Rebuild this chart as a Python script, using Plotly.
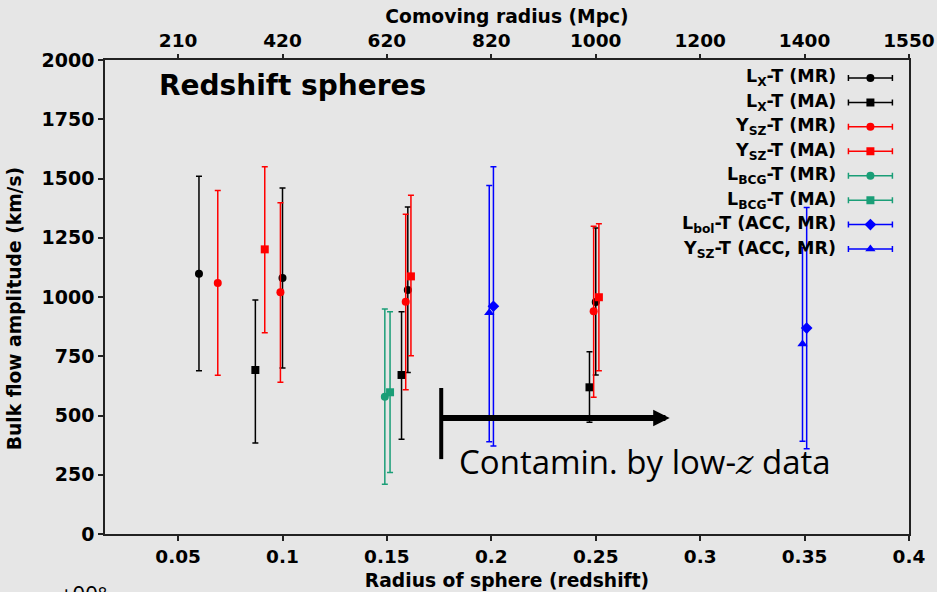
import plotly.graph_objects as go

# ---------------- data ----------------
lx_mr_z = [0.060, 0.100, 0.160, 0.250]
lx_mr_v = [1098, 1080, 1030, 979]
lx_mr_lo = [689, 700, 681, 671]
lx_mr_hi = [1510, 1460, 1380, 1291]

lx_ma_z = [0.087, 0.157, 0.247]
lx_ma_v = [692, 671, 619]
lx_ma_lo = [384, 400, 471]
lx_ma_hi = [987, 938, 769]

ysz_mr_z = [0.069, 0.099, 0.159, 0.249]
ysz_mr_v = [1059, 1020, 980, 940]
ysz_mr_lo = [670, 640, 609, 577]
ysz_mr_hi = [1449, 1398, 1349, 1298]

ysz_ma_z = [0.0915, 0.1615, 0.2515]
ysz_ma_v = [1201, 1087, 999]
ysz_ma_lo = [849, 752, 689]
ysz_ma_hi = [1550, 1429, 1309]

lbcg_mr_z = [0.149]
lbcg_mr_v = [579]
lbcg_mr_lo = [210]
lbcg_mr_hi = [949]

lbcg_ma_z = [0.1515]
lbcg_ma_v = [598]
lbcg_ma_lo = [259]
lbcg_ma_hi = [938]

lbol_acc_z = [0.201, 0.351]
lbol_acc_v = [961, 869]
lbol_acc_lo = [371, 360]
lbol_acc_hi = [1550, 1378]

ysz_acc_z = [0.199, 0.349]
ysz_acc_v = [934, 802]
ysz_acc_lo = [389, 391]
ysz_acc_hi = [1470, 1208]

x_tickvals = [0.05, 0.1, 0.15, 0.2, 0.25, 0.3, 0.35, 0.4]
x_ticktext = ["0.05", "0.1", "0.15", "0.2", "0.25", "0.3", "0.35", "0.4"]
top_ticktext = ["210", "420", "620", "820", "1000", "1200", "1400", "1550"]
y_tickvals = [0, 250, 500, 750, 1000, 1250, 1500, 1750, 2000]

legend_names = [
    "L<sub>X</sub>-T (MR)", "L<sub>X</sub>-T (MA)",
    "Y<sub>SZ</sub>-T (MR)", "Y<sub>SZ</sub>-T (MA)",
    "L<sub>BCG</sub>-T (MR)", "L<sub>BCG</sub>-T (MA)",
    "L<sub>bol</sub>-T (ACC, MR)", "Y<sub>SZ</sub>-T (ACC, MR)",
]

# arrow / annotation anchors (data units)
contam_start_z = 0.176
contam_end_z = 0.2854
contam_arrow_v = 489
contam_bar_lo = 316
contam_bar_hi = 616

# ---------------- styles ----------------
BLACK = "#000000"
RED = "#ff0000"
GREEN = "#1a9e77"
BLUE = "#0000ff"
BG = "#e6e6e6"
FONT = "DejaVu Sans, Verdana, sans-serif"

series = [
    (lx_mr_z, lx_mr_v, lx_mr_lo, lx_mr_hi, BLACK, "circle", 8),
    (lx_ma_z, lx_ma_v, lx_ma_lo, lx_ma_hi, BLACK, "square", 8),
    (ysz_mr_z, ysz_mr_v, ysz_mr_lo, ysz_mr_hi, RED, "circle", 8),
    (ysz_ma_z, ysz_ma_v, ysz_ma_lo, ysz_ma_hi, RED, "square", 8),
    (lbcg_mr_z, lbcg_mr_v, lbcg_mr_lo, lbcg_mr_hi, GREEN, "circle", 8),
    (lbcg_ma_z, lbcg_ma_v, lbcg_ma_lo, lbcg_ma_hi, GREEN, "square", 8),
    (lbol_acc_z, lbol_acc_v, lbol_acc_lo, lbol_acc_hi, BLUE, "diamond", 9),
    (ysz_acc_z, ysz_acc_v, ysz_acc_lo, ysz_acc_hi, BLUE, "triangle-up", 9),
]

fig = go.Figure()

for (z, v, lo, hi, col, sym, sz), name in zip(series, legend_names):
    fig.add_trace(go.Scatter(
        x=z, y=v, mode="markers", name=name, showlegend=False,
        marker=dict(symbol=sym, size=sz, color=col),
        error_y=dict(type="data", symmetric=False,
                     array=[h - c for h, c in zip(hi, v)],
                     arrayminus=[c - l for c, l in zip(v, lo)],
                     color=col, thickness=1.5, width=3),
    ))

# dummy trace to anchor top axis
fig.add_trace(go.Scatter(x=[None], y=[None], xaxis="x2", yaxis="y",
                         showlegend=False, hoverinfo="skip"))

# manual legend (symbols on the right of text)
for i, ((z, v, lo, hi, col, sym, sz), name) in enumerate(zip(series, legend_names)):
    fig.add_trace(go.Scatter(
        x=[0], y=[i], xaxis="x3", yaxis="y3", mode="markers", showlegend=False,
        marker=dict(symbol=sym, size=sz, color=col),
        error_x=dict(type="constant", value=22, color=col, thickness=1.5, width=3),
        hoverinfo="skip",
    ))
    fig.add_annotation(
        x=0.9122, xref="paper", y=i, yref="y3", text=name, showarrow=False,
        xanchor="right", yanchor="middle",
        font=dict(family=FONT, size=17.5, color="black", weight="bold"),
    )

xtick_font = dict(family=FONT, size=18.5, color="black", weight="bold")
ytick_font = dict(family=FONT, size=19, color="black", weight="bold")
title_font = dict(family=FONT, size=18.7, color="black", weight="bold")
LINE = "#222222"

fig.update_layout(
    width=937, height=592,
    margin=dict(l=105, r=28, t=60, b=58, autoexpand=False),
    paper_bgcolor=BG, plot_bgcolor=BG,
    showlegend=False,
    xaxis=dict(range=[0.015, 0.4], tickvals=x_tickvals, ticktext=x_ticktext,
               ticks="outside", ticklen=5, tickcolor=LINE, tickwidth=1.5,
               showline=True, linecolor=LINE, linewidth=1.5, mirror=True,
               showgrid=False, zeroline=False, tickfont=xtick_font, automargin=False,
               title=dict(text="Radius of sphere (redshift)", font=title_font, standoff=8)),
    xaxis2=dict(range=[0.015, 0.4], overlaying="x", side="top", anchor="y",
                tickvals=x_tickvals, ticktext=top_ticktext,
                ticks="outside", ticklen=4, tickcolor=LINE, tickwidth=1.5,
                showline=True, linecolor=LINE, linewidth=1.5, automargin=False,
                showgrid=False, zeroline=False, tickfont=xtick_font,
                title=dict(text="Comoving radius (Mpc)", font=title_font, standoff=1)),
    yaxis=dict(range=[0, 2000], tickvals=y_tickvals,
               ticks="outside", ticklen=5, tickcolor=LINE, tickwidth=1.5,
               showline=True, linecolor=LINE, linewidth=1.5, mirror=True,
               showgrid=False, zeroline=False, tickfont=ytick_font, automargin=False),
    xaxis3=dict(domain=[0.9147, 0.9893], range=[-30, 30], visible=False,
                anchor="y3", fixedrange=True, automargin=False),
    yaxis3=dict(domain=[0.5755, 0.9878], range=[7.5, -0.5], visible=False,
                anchor="x3", fixedrange=True, automargin=False),
)

# y-axis title (placed as rotated text)
fig.add_annotation(x=-0.1127, xref="paper", y=0.475, yref="paper",
                   text="Bulk flow amplitude (km/s)", textangle=-90, showarrow=False,
                   xanchor="center", yanchor="middle", font=title_font)

# "Redshift spheres" label
fig.add_annotation(x=0.0652, xref="paper", y=0.947, yref="paper",
                   text="Redshift spheres", showarrow=False,
                   xanchor="left", yanchor="middle",
                   font=dict(family=FONT, size=28, color="black", weight="bold"))

# contamination marker
fig.add_shape(type="line", xref="x", yref="y",
              x0=contam_start_z, x1=contam_start_z, y0=contam_bar_lo, y1=contam_bar_hi,
              line=dict(color="black", width=4))
fig.add_annotation(x=contam_end_z, y=contam_arrow_v, xref="x", yref="y",
                   ax=contam_start_z, ay=contam_arrow_v, axref="x", ayref="y",
                   showarrow=True, arrowhead=2, arrowwidth=6, arrowsize=0.55,
                   arrowcolor="black", text="")
fig.add_annotation(x=0.2734, y=305, xref="x", yref="y",
                   text="Contamin. by low-<span style=\"font-family:'DejaVu Serif'\"><i>z</i></span> data",
                   showarrow=False, xanchor="center", yanchor="middle",
                   font=dict(family="Open Sans, Noto Sans, sans-serif", size=33, color="black"))

# cropped stray label at bottom-left
fig.add_annotation(x=-0.058, xref="paper", y=-0.088, yref="paper",
                   text="+00°", showarrow=False, xanchor="left", yanchor="top",
                   font=dict(family="Noto Sans, sans-serif", size=22, color="black"))

fig.write_html("out.html")
